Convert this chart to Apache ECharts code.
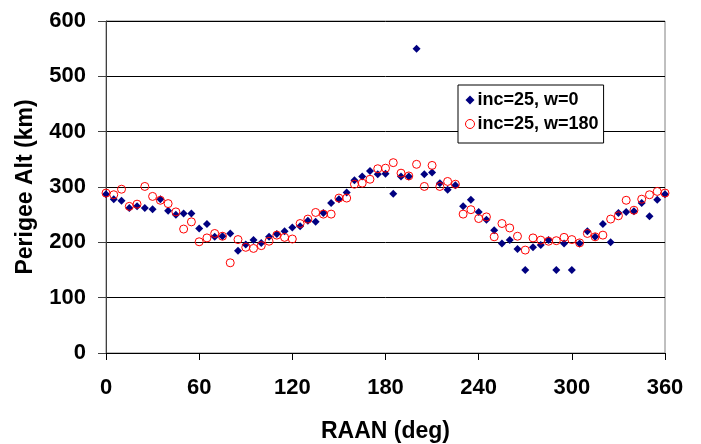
<!DOCTYPE html>
<html>
<head>
<meta charset="utf-8">
<script src="https://cdn.jsdelivr.net/npm/echarts@6/dist/echarts.min.js"></script>
<style>
html,body{margin:0;padding:0;background:#fff;}
#c{width:701px;height:444px;}
</style>
</head>
<body>
<div id="c"></div>
<script>
// RAAN values (deg)
var raan = [0,5,10,15,20,25,30,35,40,45,50,55,60,65,70,75,80,85,90,95,100,105,110,115,120,125,130,135,140,145,150,155,160,165,170,175,180,185,190,195,200,205,210,215,220,225,230,235,240,245,250,255,260,265,270,275,280,285,290,295,300,305,310,315,320,325,330,335,340,345,350,355,360];
// inc=25, w=0 perigee altitude (km)
var altW0 = [287,278,275,262,265,262,260,278,257,250,252,252,225,233,210,211,216,185,196,204,199,210,215,220,227,229,239,237,253,271,278,290,312,319,329,323,324,288,319,319,550,323,326,307,295,303,265,277,255,241,222,198,204,188,150,191,195,204,150,198,150,198,220,210,233,200,253,255,256,271,247,277,287];
// inc=25, w=180 perigee altitude (km)
var altW180 = [289,286,296,265,269,301,283,276,270,255,224,237,201,208,216,211,163,205,191,189,194,202,213,209,206,234,242,254,251,251,280,280,305,307,314,333,334,344,325,320,341,301,339,301,310,305,251,259,243,246,210,234,226,211,186,208,204,202,203,209,205,199,216,210,213,242,248,276,258,278,286,292,289];
var seriesNames = ['inc=25, w=0', 'inc=25, w=180'];
var xTicks = [0,60,120,180,240,300,360];
var yTicks = [0,100,200,300,400,500,600];

function pairs(xs, ys){ return xs.map(function(x,i){ return [x, ys[i]]; }); }

var font = '"Liberation Sans", Arial, sans-serif';
var chart = echarts.init(document.getElementById('c'), null, {renderer:'canvas'});
chart.setOption({
  animation:false,
  backgroundColor:'#fff',
  textStyle:{fontFamily:font},
  grid:{left:106, right:36, top:21, bottom:91, containLabel:false, outerBoundsMode:'none',
        show:true, borderColor:'#808080', borderWidth:1, backgroundColor:'transparent'},
  xAxis:{
    type:'value', min:xTicks[0], max:xTicks[xTicks.length-1], interval:60,
    name:'RAAN (deg)', nameLocation:'middle', nameGap:67,
    nameTextStyle:{fontFamily:font, fontSize:23, fontWeight:'bold', color:'#000'},
    axisLine:{show:true, onZero:false, lineStyle:{color:'#000', width:1}},
    axisTick:{show:true, inside:false, length:7, lineStyle:{color:'#000'}},
    axisLabel:{margin:24, fontFamily:font, fontSize:22, fontWeight:'bold', color:'#000'},
    splitLine:{show:false}
  },
  yAxis:{
    type:'value', min:yTicks[0], max:yTicks[yTicks.length-1], interval:100,
    name:'Perigee Alt (km)', nameLocation:'middle', nameGap:69, nameRotate:90,
    nameTextStyle:{fontFamily:font, fontSize:23, fontWeight:'bold', color:'#000'},
    axisLine:{show:true, onZero:false, lineStyle:{color:'#404040', width:1}},
    axisTick:{show:true, inside:false, length:8, lineStyle:{color:'#404040'}},
    axisLabel:{margin:20, fontFamily:font, fontSize:22, fontWeight:'bold', color:'#000'},
    splitLine:{show:true, lineStyle:{color:'#000', width:1}}
  },
  legend:{
    orient:'vertical', left:458, top:85,
    backgroundColor:'#fff', borderColor:'#000', borderWidth:1,
    padding:[6,5,10,7], itemGap:6, itemWidth:9, itemHeight:9,
    textStyle:{fontFamily:font, fontSize:18, fontWeight:'bold', color:'#000', padding:[0,0,0,-2]},
    data:[
      {name:seriesNames[0], icon:'diamond', itemStyle:{color:'#000080'}},
      {name:seriesNames[1], icon:'circle', itemStyle:{color:'#fff', borderColor:'#ff0000', borderWidth:1}}
    ]
  },
  series:[
    {name:seriesNames[0], type:'scatter', symbol:'diamond', symbolSize:8,
     itemStyle:{color:'#000080', opacity:1}, data:pairs(raan, altW0)},
    {name:seriesNames[1], type:'scatter', symbol:'circle', symbolSize:8,
     itemStyle:{color:'rgba(0,0,0,0)', borderColor:'#ff0000', borderWidth:1, opacity:1}, data:pairs(raan, altW180)}
  ]
});
</script>
</body>
</html>
